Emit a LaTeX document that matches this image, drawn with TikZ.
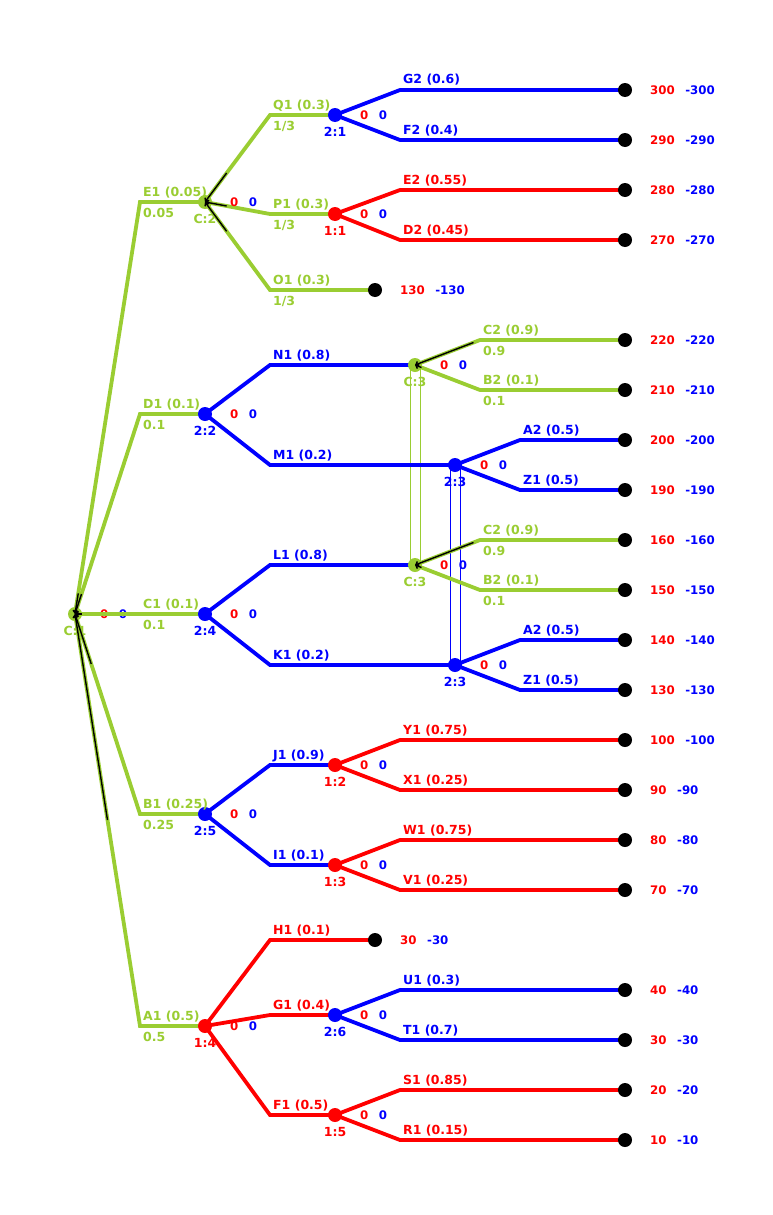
\documentclass[tikz,border=0pt]{standalone}
\usepackage{fontspec}
\setmainfont{DejaVu Sans}
\usetikzlibrary{arrows.meta,calc}
\definecolor{cg}{RGB}{154,205,50}
\definecolor{cr}{RGB}{255,0,0}
\definecolor{cb}{RGB}{0,0,255}
\pgfdeclarelayer{bottom}
\pgfdeclarelayer{lines}
\pgfsetlayers{bottom,lines,main}
\tikzset{
  txt/.style={font=\fontsize{12.5}{14}\selectfont\bfseries, inner sep=0pt},
  ptxt/.style={font=\fontsize{11.8}{13}\selectfont\bfseries, inner sep=0pt},
  br/.style={line width=3.8pt},
  dot/.style={circle, inner sep=0pt, minimum size=14pt, fill=#1},
  lab/.style={txt, anchor=base west},
  nlab/.style={txt, anchor=base},
  pay/.style={ptxt, anchor=west},
  chk/.style={black, line width=1.4pt, {Straight Barb[length=2.5pt,width=5pt]}-},
  iset/.style={line width=1pt},
}
% decision / chance node: name, x, y, colour, label
\newcommand{\Nd}[5]{%
  \node[dot=#4] (#1) at (#2,#3) {};
  \node[nlab,#4] (#1-l) at (#2,{#3+21}) {#5};}
% terminal node
\newcommand{\Tm}[3]{\node[dot=black] (#1) at (#2,#3) {};}
% payoff pair
\newcommand{\Py}[3]{\node[pay] (#1-p) at ([xshift=25pt]#1.center) {\textcolor{cr}{#2}\hspace*{10.5pt}\textcolor{cb}{#3}};}
% branch with top and bottom label: colour, parent, bx, by, child, top, bottom
\newcommand{\Br}[7]{%
  \coordinate (#5-b) at (#3,#4);
  \begin{pgfonlayer}{lines}\draw[br,#1] (#2.center) -- (#5-b) -- (#5.center);\end{pgfonlayer}
  \node[lab,#1] (#5-t) at ([xshift=3pt,yshift=6pt]#5-b) {#6};
  \node[lab,#1] (#5-u) at ([xshift=3pt,yshift=-15pt]#5-b) {#7};}
% branch with top label only
\newcommand{\Bp}[6]{%
  \coordinate (#5-b) at (#3,#4);
  \begin{pgfonlayer}{lines}\draw[br,#1] (#2.center) -- (#5-b) -- (#5.center);\end{pgfonlayer}
  \node[lab,#1] (#5-t) at ([xshift=3pt,yshift=6pt]#5-b) {#6};}
% chance arrow
\newcommand{\Ch}[3]{\draw[chk] (#1.center) -- ($(#1.center)!#3!(#2-b)$);}

\begin{document}
\begin{tikzpicture}[x=1pt,y=-1pt]
\useasboundingbox (0,0) rectangle (772,1215);

% ---------- nodes ----------
\node[dot=cg] (c1) at (75,614) {};
\begin{pgfonlayer}{bottom}
\node[nlab,cg] (c1-l) at (75,635) {C:1};
\node[pay] (c1-p) at ([xshift=25pt]c1.center) {\textcolor{cr}{0}\hspace*{10.5pt}\textcolor{cb}{0}};
\end{pgfonlayer}
\Nd{c2}{205}{202}{cg}{C:2}
\Nd{n22}{205}{414}{cb}{2:2}
\Nd{n24}{205}{614}{cb}{2:4}
\Nd{n25}{205}{814}{cb}{2:5}
\Nd{n14}{205}{1026}{cr}{1:4}
\Nd{n21}{335}{115}{cb}{2:1}
\Nd{n11}{335}{214}{cr}{1:1}
\Tm{tO1}{375}{290}
\Nd{c3a}{415}{365}{cg}{C:3}
\Nd{n23a}{455}{465}{cb}{2:3}
\Nd{c3b}{415}{565}{cg}{C:3}
\Nd{n23b}{455}{665}{cb}{2:3}
\Nd{n12}{335}{765}{cr}{1:2}
\Nd{n13}{335}{865}{cr}{1:3}
\Tm{tH1}{375}{940}
\Nd{n26}{335}{1015}{cb}{2:6}
\Nd{n15}{335}{1115}{cr}{1:5}

\Tm{tG2}{625}{90}
\Tm{tF2}{625}{140}
\Tm{tE2}{625}{190}
\Tm{tD2}{625}{240}
\Tm{tC2a}{625}{340}
\Tm{tB2a}{625}{390}
\Tm{tA2a}{625}{440}
\Tm{tZ1a}{625}{490}
\Tm{tC2b}{625}{540}
\Tm{tB2b}{625}{590}
\Tm{tA2b}{625}{640}
\Tm{tZ1b}{625}{690}
\Tm{tY1}{625}{740}
\Tm{tX1}{625}{790}
\Tm{tW1}{625}{840}
\Tm{tV1}{625}{890}
\Tm{tU1}{625}{990}
\Tm{tT1}{625}{1040}
\Tm{tS1}{625}{1090}
\Tm{tR1}{625}{1140}

% ---------- information sets ----------
\begin{pgfonlayer}{lines}
\draw[iset,cg] ([xshift=-5pt]c3a.center) rectangle ([xshift=5pt]c3b.center);
\draw[iset,cb] ([xshift=-5pt]n23a.center) rectangle ([xshift=5pt]n23b.center);
\end{pgfonlayer}

% ---------- branches ----------
\Br{cg}{c1}{140}{202}{c2}{E1 (0.05)}{0.05}
\Br{cg}{c1}{140}{414}{n22}{D1 (0.1)}{0.1}
\Br{cg}{c1}{140}{614}{n24}{C1 (0.1)}{0.1}
\Br{cg}{c1}{140}{814}{n25}{B1 (0.25)}{0.25}
\Br{cg}{c1}{140}{1026}{n14}{A1 (0.5)}{0.5}

\Br{cg}{c2}{270}{115}{n21}{Q1 (0.3)}{1/3}
\Br{cg}{c2}{270}{214}{n11}{P1 (0.3)}{1/3}
\Br{cg}{c2}{270}{290}{tO1}{O1 (0.3)}{1/3}

\Bp{cb}{n21}{400}{90}{tG2}{G2 (0.6)}
\Bp{cb}{n21}{400}{140}{tF2}{F2 (0.4)}
\Bp{cr}{n11}{400}{190}{tE2}{E2 (0.55)}
\Bp{cr}{n11}{400}{240}{tD2}{D2 (0.45)}

\Bp{cb}{n22}{270}{365}{c3a}{N1 (0.8)}
\Bp{cb}{n22}{270}{465}{n23a}{M1 (0.2)}
\Br{cg}{c3a}{480}{340}{tC2a}{C2 (0.9)}{0.9}
\Br{cg}{c3a}{480}{390}{tB2a}{B2 (0.1)}{0.1}
\Bp{cb}{n23a}{520}{440}{tA2a}{A2 (0.5)}
\Bp{cb}{n23a}{520}{490}{tZ1a}{Z1 (0.5)}

\Bp{cb}{n24}{270}{565}{c3b}{L1 (0.8)}
\Bp{cb}{n24}{270}{665}{n23b}{K1 (0.2)}
\Br{cg}{c3b}{480}{540}{tC2b}{C2 (0.9)}{0.9}
\Br{cg}{c3b}{480}{590}{tB2b}{B2 (0.1)}{0.1}
\Bp{cb}{n23b}{520}{640}{tA2b}{A2 (0.5)}
\Bp{cb}{n23b}{520}{690}{tZ1b}{Z1 (0.5)}

\Bp{cb}{n25}{270}{765}{n12}{J1 (0.9)}
\Bp{cb}{n25}{270}{865}{n13}{I1 (0.1)}
\Bp{cr}{n12}{400}{740}{tY1}{Y1 (0.75)}
\Bp{cr}{n12}{400}{790}{tX1}{X1 (0.25)}
\Bp{cr}{n13}{400}{840}{tW1}{W1 (0.75)}
\Bp{cr}{n13}{400}{890}{tV1}{V1 (0.25)}

\Bp{cr}{n14}{270}{940}{tH1}{H1 (0.1)}
\Bp{cr}{n14}{270}{1015}{n26}{G1 (0.4)}
\Bp{cr}{n14}{270}{1115}{n15}{F1 (0.5)}
\Bp{cb}{n26}{400}{990}{tU1}{U1 (0.3)}
\Bp{cb}{n26}{400}{1040}{tT1}{T1 (0.7)}
\Bp{cr}{n15}{400}{1090}{tS1}{S1 (0.85)}
\Bp{cr}{n15}{400}{1140}{tR1}{R1 (0.15)}

% ---------- chance arrows ----------
\Ch{c1}{c2}{0.05}
\Ch{c1}{n22}{0.1}
\Ch{c1}{n24}{0.1}
\Ch{c1}{n25}{0.25}
\Ch{c1}{n14}{0.5}
\Ch{c2}{n21}{0.3333}
\Ch{c2}{n11}{0.3333}
\Ch{c2}{tO1}{0.3333}
\Ch{c3a}{tC2a}{0.9}
\Ch{c3a}{tB2a}{0.1}
\Ch{c3b}{tC2b}{0.9}
\Ch{c3b}{tB2b}{0.1}

% ---------- payoffs ----------
\Py{c2}{0}{0}
\Py{n22}{0}{0}
\Py{n24}{0}{0}
\Py{n25}{0}{0}
\Py{n14}{0}{0}
\Py{n21}{0}{0}
\Py{n11}{0}{0}
\Py{c3a}{0}{0}
\Py{n23a}{0}{0}
\Py{c3b}{0}{0}
\Py{n23b}{0}{0}
\Py{n12}{0}{0}
\Py{n13}{0}{0}
\Py{n26}{0}{0}
\Py{n15}{0}{0}

\Py{tG2}{300}{-300}
\Py{tF2}{290}{-290}
\Py{tE2}{280}{-280}
\Py{tD2}{270}{-270}
\Py{tO1}{130}{-130}
\Py{tC2a}{220}{-220}
\Py{tB2a}{210}{-210}
\Py{tA2a}{200}{-200}
\Py{tZ1a}{190}{-190}
\Py{tC2b}{160}{-160}
\Py{tB2b}{150}{-150}
\Py{tA2b}{140}{-140}
\Py{tZ1b}{130}{-130}
\Py{tY1}{100}{-100}
\Py{tX1}{90}{-90}
\Py{tW1}{80}{-80}
\Py{tV1}{70}{-70}
\Py{tH1}{30}{-30}
\Py{tU1}{40}{-40}
\Py{tT1}{30}{-30}
\Py{tS1}{20}{-20}
\Py{tR1}{10}{-10}
\end{tikzpicture}
\end{document}
